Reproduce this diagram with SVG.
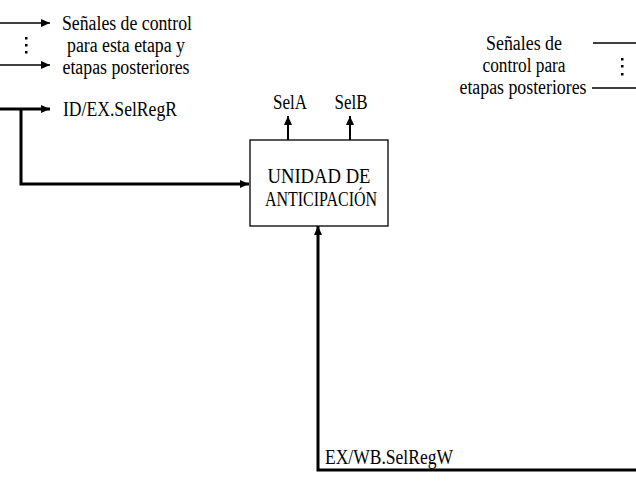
<svg xmlns="http://www.w3.org/2000/svg" width="636" height="493" viewBox="0 0 636 493">
<defs>
<marker id="ah" markerUnits="userSpaceOnUse" markerWidth="10" markerHeight="8" refX="9" refY="4" orient="auto"><path d="M0,0 L9,4 L0,8 Z" fill="#000"/></marker>
</defs>
<style>
text{font-family:"Liberation Serif","Times New Roman",serif;font-size:20px;fill:#000}
.thin{stroke:#000;stroke-width:1.3;fill:none}
.thick{stroke:#000;stroke-width:3;fill:none}
.mid{stroke:#000;stroke-width:2;fill:none}
.dot{fill:#000}
</style>
<rect width="636" height="493" fill="#fff"/>
<g id="signals-left">
<text x="127" y="30" text-anchor="middle" textLength="130" lengthAdjust="spacingAndGlyphs">Señales de control</text>
<text x="126" y="52" text-anchor="middle" textLength="118" lengthAdjust="spacingAndGlyphs">para esta etapa y</text>
<text x="126" y="74" text-anchor="middle" textLength="127" lengthAdjust="spacingAndGlyphs">etapas posteriores</text>
</g>
<g id="idex-label">
<text x="63" y="116" textLength="114" lengthAdjust="spacingAndGlyphs">ID/EX.SelRegR</text>
</g>
<g id="unidad">
<rect x="250" y="140" width="138" height="86" fill="#fff" stroke="#000" stroke-width="1.3"/>
<text x="319" y="183" text-anchor="middle" textLength="103" lengthAdjust="spacingAndGlyphs">UNIDAD DE</text>
<text x="321" y="206" text-anchor="middle" textLength="112" lengthAdjust="spacingAndGlyphs">ANTICIPACIÓN</text>
</g>
<g id="sel-labels">
<text x="290" y="109" text-anchor="middle" textLength="34" lengthAdjust="spacingAndGlyphs">SelA</text>
<text x="351" y="109" text-anchor="middle" textLength="33" lengthAdjust="spacingAndGlyphs">SelB</text>
</g>
<g id="signals-right">
<text x="524" y="50" text-anchor="middle" textLength="76" lengthAdjust="spacingAndGlyphs">Señales de</text>
<text x="524" y="72" text-anchor="middle" textLength="83" lengthAdjust="spacingAndGlyphs">control para</text>
<text x="523" y="94" text-anchor="middle" textLength="127" lengthAdjust="spacingAndGlyphs">etapas posteriores</text>
</g>
<g id="exwb-label">
<text x="325" y="464" textLength="128" lengthAdjust="spacingAndGlyphs">EX/WB.SelRegW</text>
</g>
<g id="connectors">
<line class="thin" x1="0" y1="23" x2="50" y2="23" marker-end="url(#ah)"/>
<line class="thin" x1="0" y1="65" x2="50" y2="65" marker-end="url(#ah)"/>
<rect class="dot" x="25" y="37" width="2.5" height="2.5"/>
<rect class="dot" x="25" y="44" width="2.5" height="2.5"/>
<rect class="dot" x="25" y="51" width="2.5" height="2.5"/>
<line class="thick" x1="0" y1="109" x2="50" y2="109" marker-end="url(#ah)"/>
<polyline class="thick" points="21,109 21,184 249,184" marker-end="url(#ah)"/>
<line class="mid" x1="288" y1="140" x2="288" y2="116" marker-end="url(#ah)"/>
<line class="mid" x1="350" y1="140" x2="350" y2="116" marker-end="url(#ah)"/>
<polyline class="thick" points="636,470 318,470 318,226" marker-end="url(#ah)"/>
<line class="thin" x1="593" y1="43" x2="636" y2="43"/>
<line class="thin" x1="592" y1="88" x2="636" y2="88"/>
<rect class="dot" x="621" y="58" width="2.5" height="2.5"/>
<rect class="dot" x="621" y="65" width="2.5" height="2.5"/>
<rect class="dot" x="621" y="73" width="2.5" height="2.5"/>
</g>
</svg>
